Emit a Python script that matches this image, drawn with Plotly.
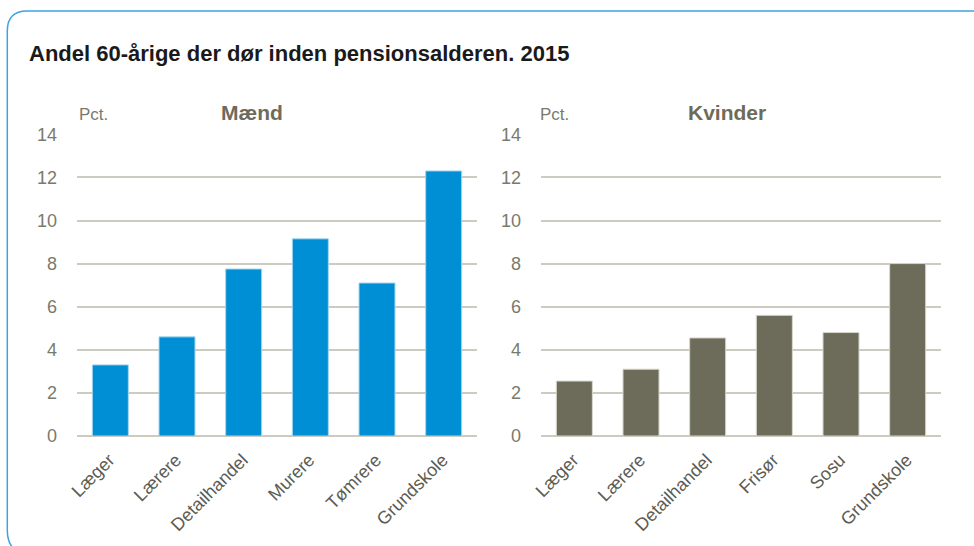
import plotly.graph_objects as go

# ---- data ----
title_text = "Andel 60-årige der dør inden pensionsalderen. 2015"
men_title = "Mænd"
women_title = "Kvinder"
unit_label = "Pct."
men_categories = ["Læger", "Lærere", "Detailhandel", "Murere", "Tømrere", "Grundskole"]
men_values = [3.3, 4.6, 7.75, 9.15, 7.1, 12.3]
women_categories = ["Læger", "Lærere", "Detailhandel", "Frisør", "Sosu", "Grundskole"]
women_values = [2.55, 3.1, 4.55, 5.6, 4.8, 8.0]
y_ticks = [0, 2, 4, 6, 8, 10, 12, 14]

# ---- layout helpers (pixel -> paper) ----
W, H = 974, 546
def px(x):
    return x / W
def py(y):
    return 1 - y / H

FONT = "Liberation Sans, Arial, sans-serif"
BLUE = "#008fd5"
OLIVE = "#6d6c5a"
GRID = "#cbcbbf"
TICK_GRAY = "#7a7a6c"
XTICK = "#5c5c52"

fig = go.Figure()
fig.add_trace(go.Bar(x=men_categories, y=men_values, xaxis="x", yaxis="y",
                     marker=dict(color=BLUE, line=dict(color="#a6d6f0", width=1)),
                     width=0.54, showlegend=False))
fig.add_trace(go.Bar(x=women_categories, y=women_values, xaxis="x2", yaxis="y2",
                     marker=dict(color=OLIVE, line=dict(color="#d6d6cc", width=1)),
                     width=0.54, showlegend=False))

ydom = [py(436), py(134.3)]
yaxis_common = dict(range=[0, 14], tickvals=y_ticks, showgrid=True, gridcolor=GRID,
                    gridwidth=1.5, zeroline=True, zerolinecolor=GRID, zerolinewidth=2,
                    showline=False, ticks="", ticklabelstandoff=19, automargin=False,
                    tickfont=dict(family=FONT, size=18, color=TICK_GRAY), fixedrange=True)
xaxis_common = dict(tickangle=-45, showline=False, ticks="", showgrid=False, automargin=False,
                    ticklabelstandoff=9, ticklabelshift=-1,
                    tickfont=dict(family=FONT, size=18, color=XTICK), fixedrange=True)

fig.update_layout(
    width=W, height=H,
    margin=dict(l=0, r=0, t=0, b=0, pad=0, autoexpand=False),
    paper_bgcolor="white", plot_bgcolor="white",
    xaxis=dict(domain=[px(77), px(477)], anchor="y", **xaxis_common),
    yaxis=dict(domain=ydom, anchor="x", **yaxis_common),
    xaxis2=dict(domain=[px(541), px(941)], anchor="y2", **xaxis_common),
    yaxis2=dict(domain=ydom, anchor="x2", **yaxis_common),
)

annotations = [
    dict(text="<b>" + title_text + "</b>", x=px(27), y=py(54), xanchor="left", yanchor="middle",
         font=dict(family=FONT, size=22, color="#1a1a1a")),
    dict(text="<b>" + men_title + "</b>", x=px(252), y=py(113), xanchor="center", yanchor="middle",
         font=dict(family=FONT, size=21, color=OLIVE)),
    dict(text="<b>" + women_title + "</b>", x=px(727), y=py(113), xanchor="center", yanchor="middle",
         font=dict(family=FONT, size=21, color=OLIVE)),
    dict(text=unit_label, x=px(77), y=py(114), xanchor="left", yanchor="middle",
         font=dict(family=FONT, size=17, color=TICK_GRAY)),
    dict(text=unit_label, x=px(538), y=py(114), xanchor="left", yanchor="middle",
         font=dict(family=FONT, size=17, color=TICK_GRAY)),
]
for a in annotations:
    a.update(xref="paper", yref="paper", showarrow=False)
fig.update_layout(annotations=annotations)

# rounded frame
path = (f"M {px(974)},{py(11)} L {px(27)},{py(11)} "
        f"Q {px(7.3)},{py(11)} {px(7.3)},{py(31)} "
        f"L {px(7.3)},{py(530)} Q {px(7.3)},{py(546)} {px(18)},{py(552)}")
fig.add_shape(type="path", path=path, xref="paper", yref="paper",
              line=dict(color="#3aa6de", width=1.5))

fig.write_html("out.html", config={"displayModeBar": False},
               post_script="document.body.style.margin='0';document.body.style.overflow='hidden';")
